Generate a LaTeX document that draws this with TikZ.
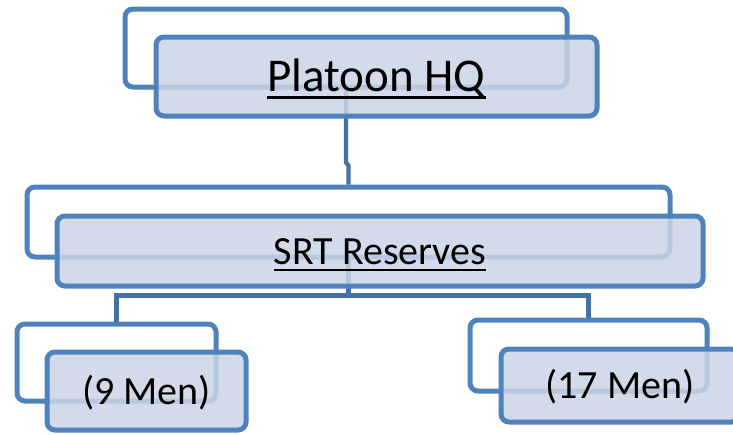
\documentclass[tikz,border=0pt]{standalone}
\usepackage{fontspec}
\setmainfont{Carlito}
\newsavebox{\myulbox}
\newcommand{\myul}[1]{\sbox{\myulbox}{#1}\rlap{\rule[-7.3pt]{\wd\myulbox}{2.8pt}}\usebox{\myulbox}}
\definecolor{boxline}{RGB}{79,129,189}
\definecolor{boxfill}{RGB}{203,213,230}
\definecolor{conline}{RGB}{68,112,166}
\begin{document}
\begin{tikzpicture}[x=1pt,y=-1pt,
  backbox/.style={draw=boxline, line width=5pt, rounded corners=8pt, inner sep=0pt},
  frontbox/.style={draw=boxline, line width=5pt, rounded corners=8pt, fill=boxfill,
    fill opacity=0.85, text opacity=1, draw opacity=1, inner sep=0pt, text depth=0pt},
  conn/.style={draw=conline, line width=4.2pt},
  bigtext/.style={font=\fontsize{47}{52}\selectfont, text height=30pt},
  midtext/.style={font=\fontsize{40}{46}\selectfont, text height=26pt}]
\useasboundingbox (0,0) rectangle (733,434);

% back boxes
\node[backbox, minimum width=442, minimum height=78] (hqback) at (346,48) {};
\node[backbox, minimum width=643, minimum height=70] (srtback) at (348.5,222) {};
\node[backbox, minimum width=199, minimum height=77] (nineback) at (116.5,362.5) {};
\node[backbox, minimum width=237, minimum height=71] (sevback) at (588.5,355.5) {};

% connectors
\draw[conn] (hqback.south) -- ++(0,73) -- ++(2.5,3) -- (srtback.north);
\draw[conn] (srtback.south) -- ++(0,36) coordinate (srtj);
\draw[conn] (nineback.north) |- (srtj) -| (sevback.north);

% front boxes
\node[frontbox, bigtext, minimum width=441, minimum height=79] (hqfront) at (376.5,76.5) {\myul{Platoon HQ}};
\node[frontbox, midtext, minimum width=646, minimum height=70] (srtfront) at (380,251) {\myul{SRT Reserves}};
\node[frontbox, midtext, minimum width=199, minimum height=78] (ninefront) at (146.5,391) {(9 Men)};
\node[frontbox, midtext, minimum width=238, minimum height=73] (sevfront) at (620,385.5) {(17 Men)};
\end{tikzpicture}
\end{document}
